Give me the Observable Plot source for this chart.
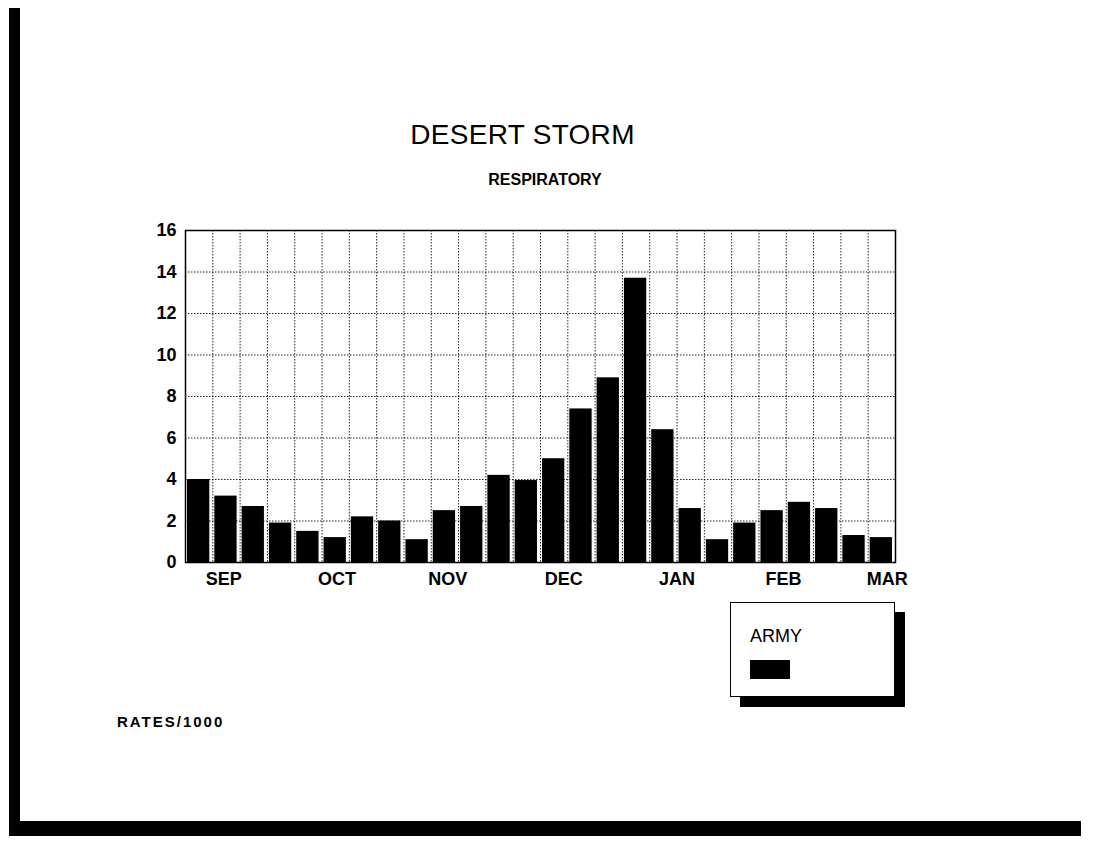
<!DOCTYPE html>
<html>
<head>
<meta charset="utf-8">
<script src="https://cdn.jsdelivr.net/npm/d3@7"></script>
<script src="https://cdn.jsdelivr.net/npm/@observablehq/plot@0.6"></script>
<style>
  html, body { margin: 0; padding: 0; background: #fff; }
  #page { position: relative; width: 1097px; height: 850px; overflow: hidden; background: #fff;
          font-family: "Liberation Sans", Arial, Helvetica, sans-serif; color: #000; }
  .abs { position: absolute; }
  #title { left: 0; width: 1045px; top: 119px; text-align: center; font-size: 28px; font-weight: normal; letter-spacing: 0.3px; }
  #subtitle { left: 0; width: 1090px; top: 171px; text-align: center; font-size: 16px; font-weight: bold; }
  #chart { left: 0; top: 200px; }
  #legend { left: 730px; top: 602px; width: 163px; height: 93px; border: 1.5px solid #000; background: #fff;
            box-shadow: 10px 10px 0 #000; }
  #legend .lab { position: absolute; left: 19px; top: 23px; font-size: 18px; }
  #legend .sw { position: absolute; left: 19px; top: 57px; width: 40px; height: 19px; background: #000; }
  #caption { left: 117px; top: 713px; font-size: 15px; font-weight: bold; letter-spacing: 2px; }
  #bl { left: 9px; top: 8px; width: 11px; height: 828px; background: #000; }
  #bb { left: 9px; top: 821px; width: 1072px; height: 15px; background: #000; }
</style>
</head>
<body>
<div id="page">
  <div id="bl" class="abs"></div>
  <div id="bb" class="abs"></div>
  <div id="title" class="abs">DESERT STORM</div>
  <div id="subtitle" class="abs">RESPIRATORY</div>
  <div id="chart" class="abs"></div>
  <div id="legend" class="abs"><div class="lab">ARMY</div><div class="sw"></div></div>
  <div id="caption" class="abs">RATES/1000</div>
</div>
<script>
// Weekly respiratory rates per 1000, Army
const weeks = d3.range(26);
const rates = [4.0, 3.2, 2.7, 1.9, 1.5, 1.2, 2.2, 2.0, 1.1, 2.5, 2.7, 4.2, 3.95,
               5.0, 7.4, 8.9, 13.7, 6.4, 2.6, 1.1, 1.9, 2.5, 2.9, 2.6, 1.3, 1.2];
const months = ["SEP", "OCT", "NOV", "DEC", "JAN", "FEB", "MAR"];
const monthPos = [1.4, 5.55, 9.6, 13.85, 18.0, 21.9, 25.7];
const yTicks = [0, 2, 4, 6, 8, 10, 12, 14, 16];

const data = weeks.map((w, i) => ({ week: w, rate: rates[i] }));
const monthName = new Map(monthPos.map((p, i) => [p, months[i]]));

const chart = Plot.plot({
  width: 1097,
  height: 402,
  marginLeft: 185,
  marginRight: 202,
  marginTop: 30,
  marginBottom: 40,
  style: { fontFamily: "'Liberation Sans', Arial, Helvetica, sans-serif", background: "transparent", overflow: "visible" },
  x: { domain: [0, 26] },
  y: { domain: [0, 16] },
  marks: [
    Plot.ruleY(yTicks.slice(1, -1), { stroke: "#000", strokeWidth: 1, strokeDasharray: "1.5,1.5", strokeOpacity: 0.85 }),
    Plot.ruleX(d3.range(1, 26), { stroke: "#000", strokeWidth: 1, strokeDasharray: "1.5,1.5", strokeOpacity: 0.85 }),
    Plot.rectY(data, { x1: "week", x2: d => d.week + 1, y: "rate", fill: "#000", insetLeft: 2, insetRight: 3 }),
    Plot.frame({ stroke: "#000", strokeWidth: 1.5 }),
    Plot.axisY(yTicks, { tickSize: 0, tickPadding: 9, fontSize: 18, fontWeight: "bold", label: null }),
    Plot.axisX(monthPos, { tickSize: 0, tickPadding: 10, fontSize: 18, fontWeight: "bold", label: null,
                           tickFormat: d => monthName.get(d) })
  ]
});
document.getElementById("chart").appendChild(chart);
</script>
</body>
</html>
